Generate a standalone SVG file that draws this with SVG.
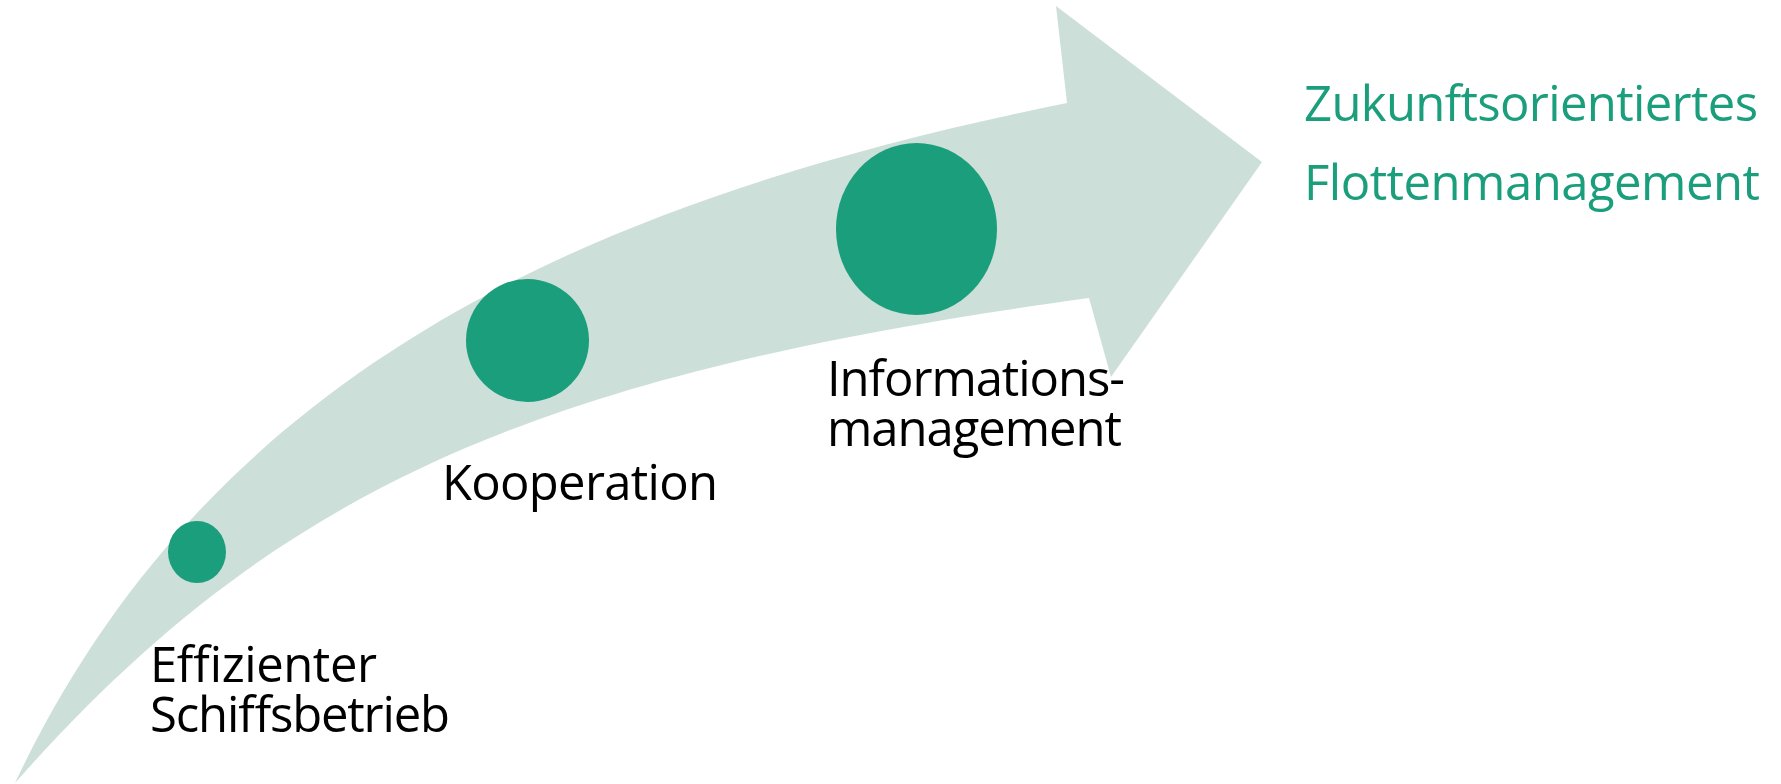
<svg xmlns="http://www.w3.org/2000/svg" width="1781" height="784" viewBox="0 0 1781 784">
<style>
.lbl{font-family:"Open Sans","Noto Sans","Liberation Sans",sans-serif;font-size:49px;fill:#000}
.goal{font-family:"Open Sans","Noto Sans","Liberation Sans",sans-serif;font-size:49px;fill:#1a9e7c}
.dot{fill:#1a9e7c}
</style>
<rect width="1781" height="784" fill="#fff"/>
<g id="connectors">
<path id="arrow" fill="#cddfd9" d="M1067,103 L1056,6 L1262,162 L1111,377 L1089,298 C544,373 280,483 15,783 C207,376 577,202 1067,103 Z"/>
</g>
<g id="node-schiffsbetrieb">
<ellipse class="dot" cx="197" cy="552" rx="29" ry="31"/>
<text class="lbl" x="150" y="682" textLength="227">Effizienter</text>
<text class="lbl" x="150" y="732" textLength="300">Schiffsbetrieb</text>
</g>
<g id="node-kooperation">
<ellipse class="dot" cx="527.5" cy="340.5" rx="61.5" ry="61.5"/>
<text class="lbl" x="442" y="500" textLength="276">Kooperation</text>
</g>
<g id="node-informationsmanagement">
<ellipse class="dot" cx="916.5" cy="229" rx="80.5" ry="86"/>
<text class="lbl" x="827" y="396" textLength="298">Informations-</text>
<text class="lbl" x="827" y="446" textLength="295">management</text>
</g>
<g id="node-ziel">
<text class="goal" x="1304" y="121" textLength="454">Zukunftsorientiertes</text>
<text class="goal" x="1304" y="200" textLength="456">Flottenmanagement</text>
</g>
</svg>
